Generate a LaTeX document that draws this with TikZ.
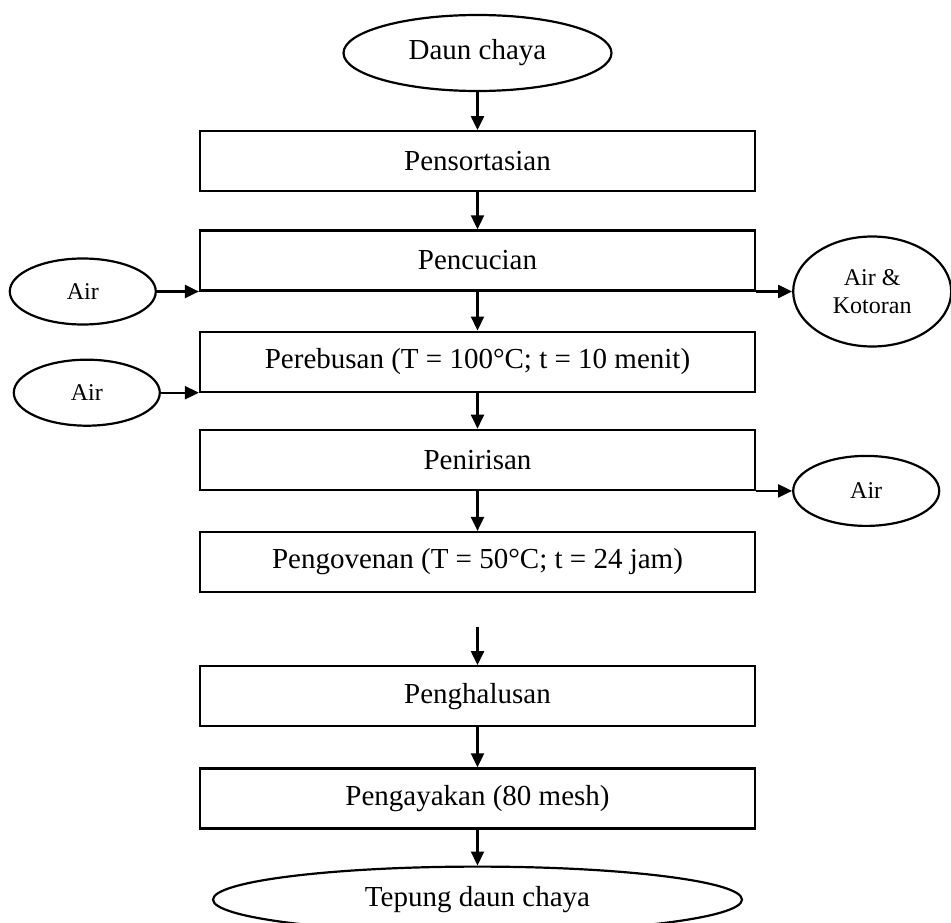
\documentclass[tikz,border=0pt]{standalone}
\usepackage{fontspec}
\setmainfont{Liberation Serif}
\usetikzlibrary{shapes,arrows.meta,positioning}

\begin{document}
\begin{tikzpicture}[node distance=38pt, line width=2.2pt,
  proses/.style={rectangle, draw, minimum width=555pt, minimum height=60pt, font=\fontsize{29}{34}\selectfont},
  ujung/.style={ellipse, draw, inner sep=0pt, font=\fontsize{29}{34}\selectfont},
  samping/.style={ellipse, draw, inner sep=0pt, minimum width=146pt, minimum height=66pt, font=\fontsize{24}{28}\selectfont, align=center},
  arr/.style={-{Triangle[length=14pt,width=13pt]}}]
\useasboundingbox (0,0) rectangle (951pt,-923pt);

\node[ujung, minimum width=268pt, minimum height=76pt] (daun) at (477.5pt,-53pt) {Daun chaya};
\node[proses, below=of daun] (sortasi) {Pensortasian};
\node[proses, below=37pt of sortasi] (cuci) {Pencucian};
\node[proses, below=39pt of cuci] (rebus) {Perebusan (T = 100°C; t = 10 menit)};
\node[proses, below=36pt of rebus] (tiris) {Penirisan};
\node[proses, below=40pt of tiris] (oven) {Pengovenan (T = 50°C; t = 24 jam)};
\coordinate[below=34pt of oven] (jeda);
\node[proses, below=72pt of oven] (halus) {Penghalusan};
\node[proses, below=40pt of halus] (ayak) {Pengayakan (80 mesh)};
\node[ujung, minimum width=529pt, minimum height=66pt, below=36pt of ayak] (tepung) {Tepung daun chaya};

% bahan masuk dan keluar
\node[samping, left=42pt of cuci.south west] (air1) {Air};
\node[samping, left=38pt of rebus.south west] (air2) {Air};
\node[samping, minimum width=158pt, minimum height=110pt, right=36pt of cuci.south east] (kotor) {Air \&\\Kotoran};
\node[samping, minimum height=70pt, right=36pt of tiris.south east] (air3) {Air};

\draw[arr] (daun) -- (sortasi);
\draw[arr] (sortasi) -- (cuci);
\draw[arr] (cuci) -- (rebus);
\draw[arr] (rebus) -- (tiris);
\draw[arr] (tiris) -- (oven);
\draw[arr] (jeda) -- (halus);
\draw[arr] (halus) -- (ayak);
\draw[arr] (ayak) -- (tepung);

\draw[arr] (air1) -- (cuci.south west);
\draw[arr] (air2) -- (rebus.south west);
\draw[arr] (cuci.south east) -- (kotor);
\draw[arr] (tiris.south east) -- (air3);
\end{tikzpicture}
\end{document}
